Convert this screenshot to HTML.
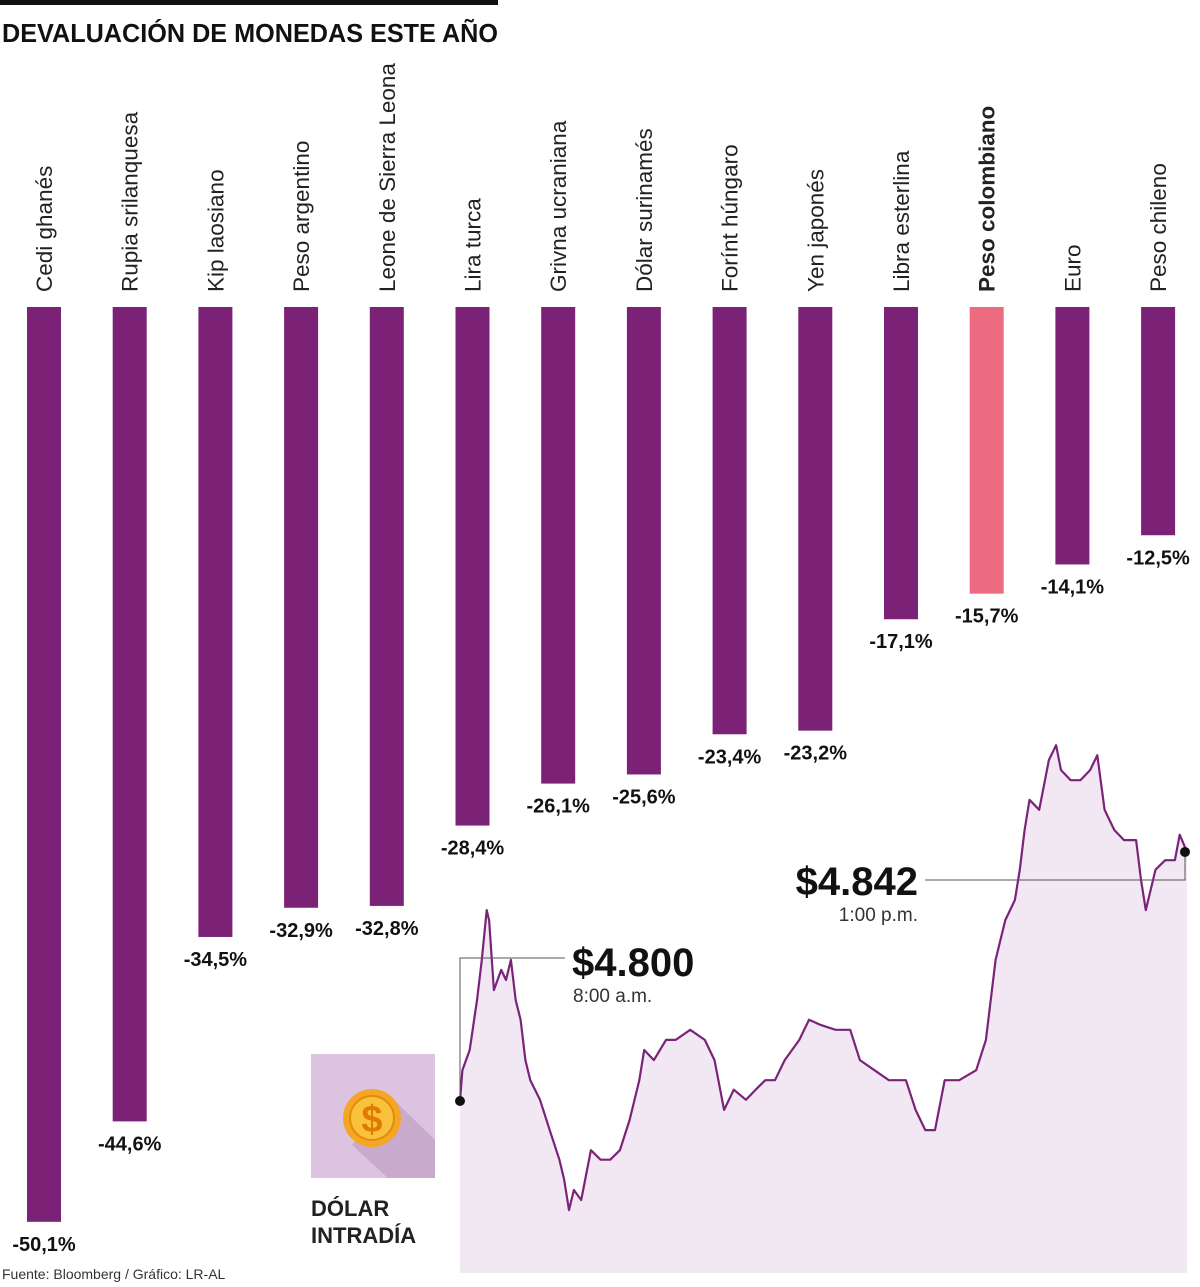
<!DOCTYPE html>
<html><head><meta charset="utf-8">
<style>
body{margin:0;background:#fff;width:1200px;height:1282px;overflow:hidden;font-family:"Liberation Sans",sans-serif;}
svg text{font-family:"Liberation Sans",sans-serif;}
</style></head>
<body>
<svg id="chart" width="1200" height="1282" xmlns="http://www.w3.org/2000/svg">
<rect x="0" y="0" width="498" height="5" fill="#111"/>
<text x="2" y="42" font-size="26" font-weight="bold" fill="#111" textLength="496" lengthAdjust="spacingAndGlyphs">DEVALUACIÓN DE MONEDAS ESTE AÑO</text>
<g id="bars"></g>
<g id="intraday"></g>
<g>
<rect x="311" y="1054" width="124" height="124" fill="#dcc3e0"/>
<polygon points="352,1145 392,1098 435,1140 435,1178 388,1178" fill="#c9aacd"/>
<circle cx="372" cy="1118" r="29" fill="#f5a623"/>
<circle cx="372" cy="1118" r="22" fill="#f9c23c" stroke="#e08e0b" stroke-width="2"/>
<text x="372" y="1132" font-size="38" font-weight="bold" fill="#e07b00" text-anchor="middle">$</text>
</g>
<text x="311" y="1216" font-size="22" font-weight="bold" fill="#222">DÓLAR</text>
<text x="311" y="1243" font-size="22" font-weight="bold" fill="#222">INTRADÍA</text>
<text x="2" y="1279" font-size="14" fill="#333">Fuente: Bloomberg / Gráfico: LR-AL</text>
</svg>
<script>
const categories=["Cedi ghanés","Rupia srilanquesa","Kip laosiano","Peso argentino","Leone de Sierra Leona","Lira turca","Grivna ucraniana","Dólar surinamés","Forínt húngaro","Yen japonés","Libra esterlina","Peso colombiano","Euro","Peso chileno"];
const values=[-50.1,-44.6,-34.5,-32.9,-32.8,-28.4,-26.1,-25.6,-23.4,-23.2,-17.1,-15.7,-14.1,-12.5];
const highlight="Peso colombiano";
const times=[0,1,4,7,9,11,12,14,17,19,21,23,25,27,29,33,37,41,43,45,47,50,54,58,62,66,70,74,76,80,85,89,95,101,105,109,113,118,122,126,130,134,140,144,149,155,161,165,171,177,184,188,192,196,200,206,213,217,221,225,229,231,233,235,239,243,246,248,252,256,260,263,266,270,274,279,281,283,287,291,295,297,300];
const prices=[4800.0,4805.2,4808.6,4817.0,4823.8,4832.2,4830.5,4818.7,4822.1,4820.4,4823.8,4817.0,4813.7,4806.9,4803.5,4800.2,4795.1,4790.1,4786.7,4781.6,4785.0,4783.3,4791.7,4790.1,4790.1,4791.7,4796.8,4803.5,4808.6,4806.9,4810.3,4810.3,4812.0,4810.3,4806.9,4798.5,4801.9,4800.2,4801.9,4803.5,4803.5,4806.9,4810.3,4813.7,4812.8,4812.0,4812.0,4806.9,4805.2,4803.5,4803.5,4798.5,4795.1,4795.1,4803.5,4803.5,4805.2,4810.3,4823.8,4830.5,4833.9,4839.0,4845.7,4850.8,4849.1,4857.5,4860.0,4855.8,4854.1,4854.1,4855.8,4858.3,4849.1,4845.7,4844.0,4844.0,4837.3,4832.2,4839.0,4840.6,4840.6,4844.9,4842.0];
const NS="http://www.w3.org/2000/svg";
function mk(tag,attrs,parent){const e=document.createElementNS(NS,tag);for(const k in attrs)e.setAttribute(k,attrs[k]);parent.appendChild(e);return e;}
const barTop=307, pxPerPct=18.26;
const bx=i=>44+i*85.7;
const by=v=>barTop+(-v)*pxPerPct;
const fmt=v=>v.toFixed(1).replace('.',',')+'%';
const gb=document.getElementById('bars');
categories.forEach((c,i)=>{
  const x=bx(i), y=by(values[i]);
  const r=mk('rect',{x:x-17,y:barTop,width:34,height:y-barTop,fill:c===highlight?'#ec6b80':'#7b2277'},gb);
  
  
  const t=mk('text',{x:x+8,y:292,'font-size':22.5,fill:'#222',transform:`rotate(-90 ${x+8} 292)`},gb);
  if(c===highlight)t.setAttribute('font-weight','bold');
  t.textContent=c;
  
  
  const l=mk('text',{x:x,y:y+29,'font-size':20,'font-weight':'bold',fill:'#111','text-anchor':'middle'},gb);
  l.textContent=fmt(values[i]);
  
  
});
const gi=document.getElementById('intraday');
const tx=t=>460+t/300*727;
const ty=p=>1101-(p-4800)*5.93;
let d='';times.forEach((t,i)=>{d+=(i?'L':'M')+tx(t).toFixed(1)+','+ty(prices[i]).toFixed(1);});
const area=mk('path',{d:d+`L${tx(300)},1273L${tx(0)},1273Z`,fill:'#f2e8f4'},gi);


const line=mk('path',{d:d,fill:'none',stroke:'#7b2379','stroke-width':2.2,'stroke-linejoin':'round'},gi);


const x0=tx(times[0]),y0=ty(prices[0]),x1=tx(times[times.length-1]),y1=ty(prices[prices.length-1]);
const l1=mk('polyline',{points:`${x0},${y0} ${x0},958 565,958`,fill:'none',stroke:'#555','stroke-width':1},gi);


const l2=mk('polyline',{points:`925,880 ${x1-2},880 ${x1-2},${y1}`,fill:'none',stroke:'#555','stroke-width':1},gi);


const d1=mk('circle',{cx:x0,cy:y0,r:5,fill:'#111'},gi);


const d2=mk('circle',{cx:x1-2,cy:y1,r:5,fill:'#111'},gi);


const fp=p=>'$'+p.toFixed(0).replace(/(\d)(\d{3})$/,'$1.$2');
const a1=mk('text',{x:572,y:976,'font-size':40,'font-weight':'bold',fill:'#111'},gi);a1.textContent=fp(prices[0]);


const a1b=mk('text',{x:573,y:1002,'font-size':19,fill:'#333'},gi);a1b.textContent='8:00 a.m.';


const a2=mk('text',{x:918,y:895,'font-size':40,'font-weight':'bold',fill:'#111','text-anchor':'end'},gi);a2.textContent=fp(prices[prices.length-1]);


const a2b=mk('text',{x:918,y:921,'font-size':19,fill:'#333','text-anchor':'end'},gi);a2b.textContent='1:00 p.m.';


</script>
</body></html>
